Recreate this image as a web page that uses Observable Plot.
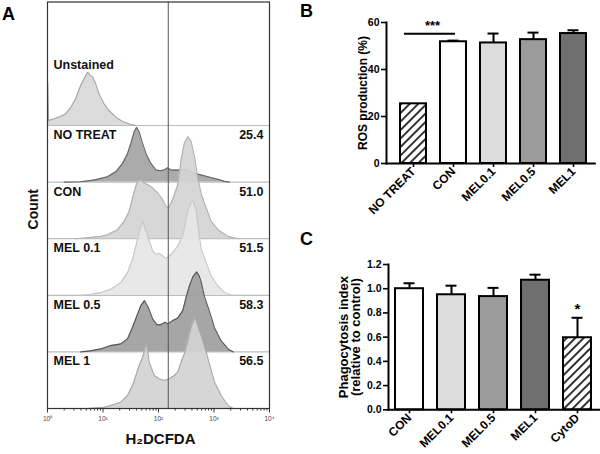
<!DOCTYPE html>
<html><head><meta charset="utf-8">
<script src="https://cdn.jsdelivr.net/npm/d3@7"></script>
<script src="https://cdn.jsdelivr.net/npm/@observablehq/plot@0.6"></script>
<style>
html,body{margin:0;padding:0;background:#fff;}
#root{position:relative;width:600px;height:454px;overflow:hidden;font-family:"Liberation Sans",Arial,sans-serif;background:#fff;}
.panel{position:absolute;}
.letter{position:absolute;font-weight:bold;font-size:18px;line-height:18px;color:#000;}
</style></head>
<body>
<svg width="0" height="0" style="position:absolute"><defs>
<pattern id="hatch" width="6" height="6" patternUnits="userSpaceOnUse" patternTransform="rotate(45)">
<rect width="6" height="6" fill="#fff"/><line x1="1" y1="0" x2="1" y2="6" stroke="#000" stroke-width="1.6"/></pattern></defs></svg>
<div id="root">
  <div class="letter" style="left:2px;top:5px">A</div>
  <div class="letter" style="left:300px;top:2px">B</div>
  <div class="letter" style="left:300px;top:230px">C</div>
  <div id="pa" class="panel" style="left:0;top:0"></div>
  <div id="pb" class="panel" style="left:300px;top:0"></div>
  <div id="pc" class="panel" style="left:300px;top:230px"></div>
</div>
<script>
// ---------- Panel A data: flow cytometry histograms [log10 H2DCFDA, count] ----------
const samples = ["Unstained", "NO TREAT", "CON", "MEL 0.1", "MEL 0.5", "MEL 1"];
const gatedPct = ["", "25.4", "51.0", "51.5", "58.3", "56.5"];
const gateFluor = 150;
const histUnstained = [[0,0],[0.005,43],[0.02,5],[0.114,6.7],[0.235,9],[0.326,11.7],[0.416,17.7],[0.507,26.7],[0.597,40],[0.67,48],[0.719,53],[0.75,52],[0.766,50],[0.809,49],[0.869,41.7],[0.928,31.7],[1.019,21.7],[1.11,15],[1.231,8.3],[1.352,4],[1.502,1],[1.6,0]];
const histNoTreat = [[0.3,0],[0.597,0.3],[0.838,2],[1.081,5.3],[1.231,10.3],[1.352,18.7],[1.443,28.7],[1.502,38.7],[1.562,50.3],[1.605,54.7],[1.652,50.3],[1.714,38.7],[1.774,28.7],[1.864,18.7],[1.955,12],[2.045,11.3],[2.118,12.7],[2.166,14.3],[2.226,12],[2.348,12],[2.467,12.7],[2.588,10.3],[2.71,8],[2.891,5.3],[3.071,2.7],[3.191,0.7],[3.281,0]];
const histCon = [[0.5,0],[0.657,0.7],[0.959,2.3],[1.081,4],[1.262,9],[1.381,17.3],[1.471,27.3],[1.533,40.7],[1.58,50.7],[1.624,57.3],[1.683,59],[1.743,55.7],[1.805,54],[1.864,52.3],[1.924,49],[1.986,45.7],[2.076,39],[2.136,32.3],[2.185,31.3],[2.239,37.3],[2.286,44],[2.348,54],[2.407,79],[2.467,95.7],[2.529,102],[2.588,97.3],[2.648,82.3],[2.71,60],[2.769,45],[2.86,30.7],[2.95,17.3],[3.071,9],[3.253,2.3],[3.372,0.7],[3.45,0]];
const histMel01 = [[0.6,0],[0.778,1],[0.959,2.7],[1.14,6],[1.321,12.7],[1.442,22.7],[1.533,36],[1.593,49.3],[1.652,62.7],[1.714,74.3],[1.805,59.3],[1.895,44.3],[1.955,41],[2.014,42],[2.076,39.3],[2.136,36.7],[2.195,39.3],[2.257,42.7],[2.348,49.3],[2.438,60],[2.467,68],[2.529,85],[2.588,93],[2.624,94],[2.679,85],[2.715,68],[2.769,46],[2.86,32.7],[2.95,19.3],[3.071,9.3],[3.191,2.7],[3.312,0.3],[3.35,0]];
const histMel05 = [[0.6,0],[0.778,1],[0.959,3],[1.14,6.3],[1.321,8],[1.442,13],[1.533,24.7],[1.624,38],[1.683,46.3],[1.747,51.3],[1.815,44.7],[1.895,33],[1.973,27],[2.045,27.3],[2.118,29.7],[2.166,28],[2.257,31.3],[2.348,34],[2.438,41.3],[2.498,54.7],[2.557,66],[2.619,75],[2.688,80],[2.733,76],[2.769,70],[2.829,55],[2.891,45],[2.95,35],[3.01,24],[3.131,11],[3.253,3],[3.348,0]];
const histMel1 = [[0.7,0],[0.778,0.3],[1.019,1.3],[1.14,3],[1.321,6.3],[1.442,13],[1.533,23],[1.593,33],[1.652,43],[1.714,51.3],[1.788,66],[1.833,46.3],[1.924,33],[2.014,29.7],[2.105,28],[2.195,29.7],[2.286,33],[2.348,36.3],[2.407,46.3],[2.467,54.7],[2.529,68],[2.588,82],[2.661,91.3],[2.738,78],[2.8,68],[2.891,50],[3.01,26.3],[3.131,13],[3.253,3],[3.343,0]];
const histograms = [histUnstained, histNoTreat, histCon, histMel01, histMel05, histMel1];
const majorTicksA = [1, 10, 100, 1000, 10000];
const majorTickLabelsA = ["10\u2070", "10\u00b9", "10\u00b2", "10\u00b3", "10\u2074"];

// ---------- Panel B data ----------
const catsB = ["NO TREAT", "CON", "MEL0.1", "MEL0.5", "MEL1"];
const rosMean = [25.4, 51.8, 51.3, 52.7, 55.3];
const rosSem = [0, 0.5, 4.0, 3.0, 1.4];
const ticksB = [0, 20, 40, 60];
const sigLevelB = 55.2;

// ---------- Panel C data ----------
const catsC = ["CON", "MEL0.1", "MEL0.5", "MEL1", "CytoD"];
const phagoMean = [1.0, 0.95, 0.935, 1.07, 0.595];
const phagoSem = [0.045, 0.075, 0.072, 0.046, 0.165];
const ticksC = [0, 0.2, 0.4, 0.6, 0.8, 1.0, 1.2];

// ---------- styles ----------
const FONT = '"Liberation Sans", Arial, sans-serif';
const histFill = ["#d8d8d8", "#a4a4a4", "#d4d4d4", "#e6e6e6", "#9e9e9e", "#d2d2d2"];
const histStroke = ["#a6a6a6", "#666666", "#b0b0b0", "#c6c6c6", "#555555", "#a8a8a8"];
const barFill = {"NO TREAT": "url(#hatch)", "CON": "#ffffff", "MEL0.1": "#dcdcdc", "MEL0.5": "#9b9b9b", "MEL1": "#6f6f6f", "CytoD": "url(#hatch)"};

// ---------- Panel A ----------
const bandH = 56.6;
const n = samples.length;
const base = i => (n - 1 - i) * bandH;
const histMarks = [];
histograms.forEach((h, i) => {
  const rows = h.map(([lx, c]) => ({x: 10 ** lx, b: base(i), t: base(i) + c}));
  histMarks.push(Plot.areaY(rows, {x: "x", y1: "b", y2: "t", fill: histFill[i], fillOpacity: 0.92}));
  histMarks.push(Plot.lineY(rows, {x: "x", y: "t", stroke: histStroke[i], strokeWidth: 1.1}));
});
// label anchor (centre of text) measured down from each band's top; Unstained sits higher
const labelRows = samples.map((s, i) => ({s, p: gatedPct[i], ly: i === 0 ? base(0) + 60.5 : base(i) + bandH - 9.5}));
const minorTicksA = [];
for (let k = 0; k < 4; k++) for (let m = 2; m <= 9; m++) minorTicksA.push(m * 10 ** k);
const tickLabelByValue = new Map(majorTicksA.map((t, i) => [t, majorTickLabelsA[i]]));

const plotA = Plot.plot({
  width: 275, height: 454,
  marginLeft: 47, marginRight: 6, marginTop: 1.5, marginBottom: 46,
  style: {fontFamily: FONT, background: "transparent"},
  x: {type: "log", domain: [1, 10000]},
  y: {domain: [0, 406.5], axis: null},
  marks: [
    Plot.ruleY([0, 1, 2, 3, 4].map(base), {stroke: "#bdbdbd", strokeWidth: 1.2}),
    ...histMarks,
    Plot.ruleX([gateFluor], {stroke: "#555", strokeWidth: 1}),
    Plot.frame({stroke: "#333", strokeWidth: 1.2}),
    Plot.text(labelRows, {x: () => 1, y: "ly", text: "s", dx: 6, textAnchor: "start", lineAnchor: "middle", fontWeight: "bold", fontSize: 12.5, fill: "#111"}),
    Plot.text(labelRows.filter(d => d.p), {x: () => 10000, y: "ly", text: "p", dx: -6, textAnchor: "end", lineAnchor: "middle", fontWeight: "bold", fontSize: 12.5, fill: "#111"}),
    Plot.axisX({ticks: minorTicksA, tickSize: 2.5, tickFormat: () => "", stroke: "#333", label: null}),
    Plot.axisX({ticks: majorTicksA, tickSize: 4.5, tickPadding: 3, tickFormat: d => tickLabelByValue.get(d) ?? "", fontSize: 6.5, fill: "#444", stroke: "#333", label: null}),
    Plot.text(["H\u2082DCFDA"], {frameAnchor: "bottom", dx: 2, dy: 30.5, textAnchor: "middle", lineAnchor: "middle", fontSize: 15, fontWeight: "bold", fill: "#111"}),
    Plot.text(["Count"], {frameAnchor: "left", rotate: -90, dx: -14, dy: 4, textAnchor: "middle", lineAnchor: "middle", fontSize: 14, fontWeight: "bold", fill: "#111"})
  ]
});
document.getElementById("pa").appendChild(plotA);

// ---------- bar panel helper ----------
function barPanel({cats, mean, sem, yMax, width, height, mL, mR, mT, mB, pI, pO, inset}) {
  const rows = cats.map((c, i) => ({c, m: mean[i], e: sem[i]}));
  const errRows = rows.filter(d => d.e > 0);
  return {rows, errRows, opts: {
    width, height, marginLeft: mL, marginRight: mR, marginTop: mT, marginBottom: mB,
    style: {fontFamily: FONT, fontWeight: "bold", fontSize: "10.5px", color: "#000", background: "transparent", overflow: "visible"},
    x: {domain: cats, paddingInner: pI, paddingOuter: pO, insetLeft: inset},
    y: {domain: [0, yMax]},
    color: {type: "identity"}
  }};
}

// ---------- Panel B ----------
{
  const {rows, errRows, opts} = barPanel({cats: catsB, mean: rosMean, sem: rosSem, yMax: 60,
    width: 300, height: 230, mL: 86, mR: 5.7, mT: 22, mB: 67, pI: 0.356, pO: 0.178, inset: 6.3});
  const sig = [{a: catsB[0], b: catsB[1], y: sigLevelB, t: "***"}];
  const plotB = Plot.plot({...opts, marks: [
    Plot.ruleX(errRows, {x: "c", y1: "m", y2: d => d.m + d.e, stroke: "#000", strokeWidth: 2}),
    Plot.tickY(errRows, {x: "c", y: d => d.m + d.e, stroke: "#000", strokeWidth: 2, insetLeft: 7.5, insetRight: 7.5}),
    Plot.barY(rows, {x: "c", y: "m", fill: d => barFill[d.c], stroke: "#000", strokeWidth: 2}),
    Plot.axisY({ticks: ticksB, tickSize: 5, tickPadding: 2, label: null, strokeWidth: 1.6, fontWeight: "bold", fontSize: 10.5}),
    Plot.axisX({tickRotate: -45, tickSize: 4, tickPadding: 2, label: null, strokeWidth: 1.6, fontWeight: "bold", fontSize: 12}),
    Plot.frame({anchor: "left", stroke: "#000", strokeWidth: 2}),
    Plot.frame({anchor: "bottom", stroke: "#000", strokeWidth: 2}),
    Plot.ruleY(sig, {x1: "a", x2: "b", y: "y", stroke: "#000", strokeWidth: 2, insetLeft: 4, insetRight: 11}),
    Plot.text(sig, {x: "a", y: "y", text: "t", dx: 19, dy: -4, lineAnchor: "bottom", fontSize: 13, fontWeight: "bold"}),
    Plot.text(["ROS production (%)"], {frameAnchor: "left", rotate: -90, dx: -23, textAnchor: "middle", lineAnchor: "middle", fontSize: 12, fontWeight: "bold"})
  ]});
  document.getElementById("pb").appendChild(plotB);
}

// ---------- Panel C ----------
{
  const {rows, errRows, opts} = barPanel({cats: catsC, mean: phagoMean, sem: phagoSem, yMax: 1.2,
    width: 300, height: 224, mL: 88, mR: 1, mT: 34, mB: 44.7, pI: 0.325, pO: 0.1625, inset: 0});
  const last = rows[rows.length - 1];
  const plotC = Plot.plot({...opts, marks: [
    Plot.ruleX(errRows, {x: "c", y1: "m", y2: d => d.m + d.e, stroke: "#000", strokeWidth: 2}),
    Plot.tickY(errRows, {x: "c", y: d => d.m + d.e, stroke: "#000", strokeWidth: 2, insetLeft: 8.5, insetRight: 8.5}),
    Plot.barY(rows, {x: "c", y: "m", fill: d => barFill[d.c], stroke: "#000", strokeWidth: 2}),
    Plot.axisY({ticks: ticksC, tickSize: 5, tickPadding: 2, tickFormat: d3.format(".1f"), label: null, strokeWidth: 1.6, fontWeight: "bold", fontSize: 10.5}),
    Plot.axisX({tickRotate: -45, tickSize: 4, tickPadding: 2, label: null, strokeWidth: 1.6, fontWeight: "bold", fontSize: 12}),
    Plot.frame({anchor: "left", stroke: "#000", strokeWidth: 2}),
    Plot.frame({anchor: "bottom", stroke: "#000", strokeWidth: 2}),
    Plot.text([last], {x: "c", y: d => d.m + d.e, text: () => "*", dy: -4, lineAnchor: "bottom", fontSize: 15, fontWeight: "bold"}),
    Plot.text(["Phagocytosis index\n(relative to control)"], {frameAnchor: "left", rotate: -90, dx: -38.5, textAnchor: "middle", lineAnchor: "middle", fontSize: 13, lineHeight: 0.9, fontWeight: "bold"})
  ]});
  document.getElementById("pc").appendChild(plotC);
}
</script>
</body></html>
